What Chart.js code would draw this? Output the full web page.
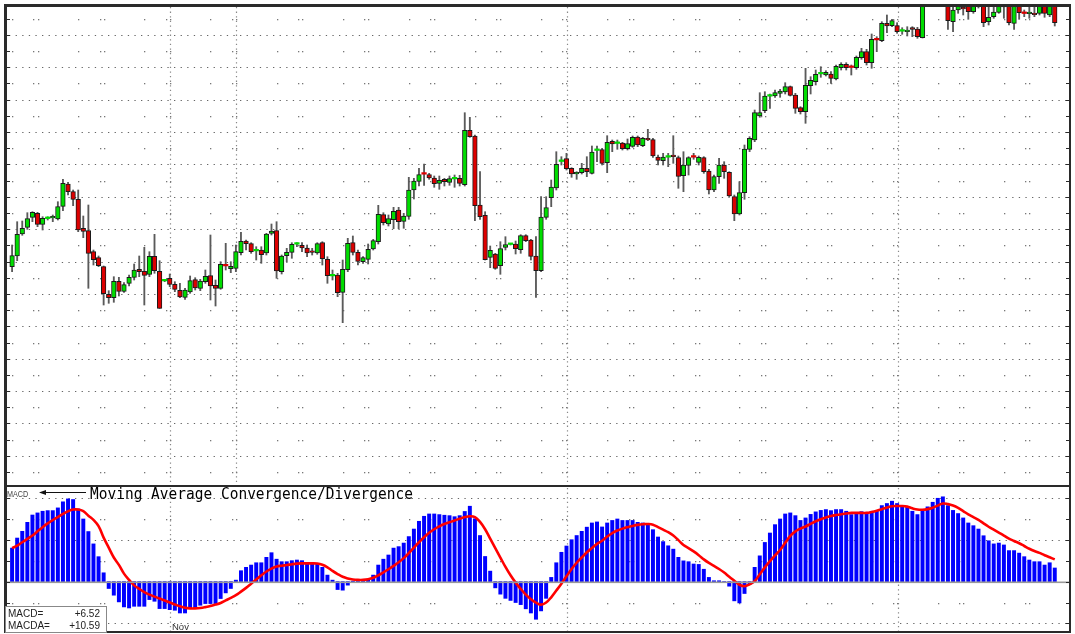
<!DOCTYPE html>
<html>
<head>
<meta charset="utf-8">
<script src="https://cdn.jsdelivr.net/npm/chart.js@4.4.1/dist/chart.umd.min.js"></script>
<style>
  body { margin: 0; background: #fff; }
  #wrap { position: relative; width: 1075px; height: 634px; overflow: hidden; }
  canvas { position: absolute; left: 0; }
  #top { top: 0; }
  #bot { top: 487px; }
  .lbl { position: absolute; white-space: nowrap; color: #222; font-family: "Liberation Sans", Arial, sans-serif; }
  #title { left: 90px; top: 486px; font: 14.5px/1 "DejaVu Sans Mono", monospace; color: #000; transform: scaleY(1.1); transform-origin: left top; }
  #macdTag { left: 7px; top: 489px; font-size: 9px; color: #444; transform: scaleX(0.8); transform-origin: left top; }
  #box { position: absolute; left: 5px; top: 606px; width: 100px; height: 25px; border: 1px solid #888; background: #fff; }
  .row { position: absolute; left: 2px; width: 92px; font: 10px/1 "Liberation Sans", Arial, sans-serif; color: #222; }
  .row span { position: absolute; right: 0; }
  #nov { left: 172px; top: 621px; font-size: 9.5px; color: #333; }
</style>
</head>
<body>
<div id="wrap">
  <canvas id="top" width="1075" height="487"></canvas>
  <canvas id="bot" width="1075" height="147"></canvas>
  <div class="lbl" id="macdTag">MACD</div>
  <div class="lbl" id="title">Moving Average Convergence/Divergence</div>
  <div class="lbl" id="nov">Nov</div>
  <div id="box">
    <div class="row" style="top:2px">MACD=<span>+6.52</span></div>
    <div class="row" style="top:14px">MACDA=<span>+10.59</span></div>
  </div>
</div>
<script>
// daily candles, price panel (arbitrary price units)
const opens = [
  233.3, 244, 266, 272.7, 282.7, 286.7, 275.7, 281.4, 282, 281,
  293.7, 316, 308.3, 300.7, 271.7, 269.3, 248.3, 242.3, 233.3, 205.7,
  202.3, 218.7, 208.7, 216.7, 222.7, 230.7, 228.7, 225.7, 243.7, 228.7,
  219.1, 221.7, 215.7, 209.7, 202.7, 208, 220.3, 211.7, 218.3, 224.3,
  214.7, 211.7, 234.5, 231.3, 231.7, 247.3, 259, 256.3, 249.1, 250,
  247, 266.7, 269.3, 228.3, 244.3, 247.7, 255.8, 254.7, 252, 248.2,
  247, 257.3, 240.7, 224.1, 225, 207.7, 230.3, 257.3, 247.7, 238.3,
  240.7, 251, 258.3, 285.3, 276, 280.3, 290, 278.7, 283.7, 310,
  318.7, 326.2, 325.3, 322, 316.7, 320.7, 317.7, 321.1, 321.7, 315.3,
  369.7, 364, 295, 284.7, 242.7, 246, 234.3, 252.7, 255.5, 256,
  250.3, 264.3, 260, 244, 229.3, 282.7, 302.3, 312, 338.5, 341.3,
  331.7, 326, 327.3, 331.7, 326.7, 349.5, 350.3, 337.3, 358.7, 356.5,
  357, 351.3, 353.7, 363, 354.3, 361.7, 360.3, 343, 339.3, 342.8,
  344.1, 342.3, 324.3, 334.7, 343.2, 337.7, 342.3, 329, 310, 323.3,
  335, 327.7, 303.3, 286, 307.3, 350.7, 360, 384, 389.3, 403.8,
  404, 406.7, 408, 413.3, 405, 392.3, 388.3, 414.3, 418.3, 426.1,
  425, 426, 421, 432.3, 435.7, 432.9, 432.3, 442.3, 448.3, 437.3,
  460.5, 459.3, 476.7, 474.3, 474.3, 468.8, 468.3, 471.4, 471, 462.3,
  498, 502, 505, 503, 500, 478.3, 490, 492, 496, 488.3,
  497, 496, 478.3, 483.3, 487.7, 494, 496, 476.7, 495, 486.9,
  486.4, 486.1, 486.7, 494, 485, 495
];
const highs = [
  255, 278.3, 279, 287.3, 288.3, 287.7, 283.3, 283.3, 285, 298.3,
  320.7, 317.7, 310, 310, 284, 295, 250, 244, 234, 209.3,
  223.3, 222.7, 217.3, 225, 236, 244, 252.7, 248.3, 265.7, 239.3,
  220.5, 226, 218.3, 216.7, 211.7, 224, 222.3, 220.7, 230, 265,
  220, 238.3, 256.7, 238.3, 255, 267.7, 260, 257.3, 253.3, 253.3,
  266.7, 276, 278.3, 245, 251.7, 257.3, 257.3, 257.3, 255, 251.7,
  257.3, 258.3, 243.3, 230, 226.7, 240, 261.7, 264, 250, 243.3,
  256, 260.7, 294.7, 287.3, 285, 292.7, 292.7, 286.7, 322.7, 321.7,
  331.7, 336, 326.7, 324, 324, 321.7, 324, 325, 324.7, 387.3,
  382.7, 365, 328.3, 288.3, 254, 246.7, 258.3, 263.3, 256.5, 259,
  265.3, 265.3, 260.7, 263.3, 303.3, 303.3, 320, 348.3, 343.3, 346.7,
  332.3, 328.3, 336.7, 343.3, 354, 354, 351.7, 364.3, 360, 360,
  357.7, 361, 364, 364, 362.7, 370.7, 361.7, 345, 346.7, 346.7,
  364.3, 344, 348.3, 343.3, 346.7, 344, 343.3, 330.7, 325, 341.7,
  338.3, 328.3, 305, 318.3, 355, 363.3, 390, 407.3, 408.3, 406,
  410, 410.7, 417.3, 414, 406.7, 393.3, 431.7, 423.3, 430, 433.3,
  429.3, 428.3, 435, 437.3, 437.3, 435, 444, 451.7, 450.7, 466,
  463.3, 478.3, 485, 480.7, 477.3, 472.3, 473.3, 473.3, 472.7, 503,
  505, 508, 511, 507, 502, 495, 497, 496, 498, 497,
  500, 499, 495, 495, 497, 497, 498, 499, 497, 490,
  494, 494, 496, 496, 496, 497
];
const lows = [
  228.3, 239.3, 264.7, 270.7, 278.3, 273.3, 270, 280, 278.3, 280,
  289.3, 305, 294.3, 268.3, 262.3, 211.7, 235, 233.3, 195, 196.7,
  197.7, 204, 207.7, 214, 220, 223.3, 195, 223.3, 226.7, 191.5,
  218.3, 213.3, 208.3, 202.3, 200.7, 206.7, 210, 209.3, 216.7, 200,
  194, 210.7, 230, 227.3, 228.3, 245, 250, 246.7, 240, 236.7,
  245, 265, 221.7, 226, 238.3, 241.7, 253.3, 248.3, 243.3, 245,
  245.7, 235, 216.7, 220, 203.3, 177.3, 228.3, 245, 235, 236.7,
  236, 250, 256, 275, 274, 271.3, 271.3, 271.7, 280.7, 301,
  314, 314.7, 320.7, 312.7, 310.7, 314, 314.7, 312.7, 314, 314,
  362.7, 279.3, 280.7, 240, 232.3, 230.7, 225.7, 250, 255, 246,
  246.7, 258.3, 240, 202.7, 228.3, 280.7, 293.3, 310, 335, 330,
  322.7, 320.7, 326, 323.3, 326, 338.3, 335, 327.3, 348.3, 350.7,
  350, 350, 352.7, 353.3, 353.3, 359.3, 342.7, 335, 335, 333.3,
  336.7, 311.7, 308.3, 325, 340.7, 335, 326.7, 306, 308.3, 316.7,
  321.7, 303.3, 279.3, 285, 300.7, 348.3, 358.3, 382.7, 387.3, 391.7,
  402.7, 402.7, 406, 404, 386.7, 386, 376.7, 406, 415, 422.7,
  424, 416.7, 420, 430, 430, 425, 430.7, 440.7, 435, 431.7,
  448.3, 458.3, 467.3, 473.3, 466.7, 465.7, 464, 463.3, 461.7, 462,
  495, 498, 500, 496, 470.7, 468.3, 486.7, 485, 480.7, 486.7,
  492, 473.3, 475, 481.7, 486.7, 481.7, 475, 470.7, 480.7, 483.3,
  481.7, 483.3, 485, 482.7, 483.3, 474
];
const closes = [
  244.3, 265.7, 271.7, 281.3, 287.7, 275.7, 281.7, 281.8, 282.7, 293.3,
  316.7, 308.3, 300.7, 270, 268.7, 246.7, 240.3, 234.3, 206.3, 202.3,
  218.7, 208.7, 215.3, 222.7, 230, 228.3, 224.7, 243.7, 229.3, 191.7,
  219.5, 215.7, 210.7, 203, 210, 219.3, 212, 219, 223.7, 214,
  211.7, 235.7, 234.1, 233.7, 248.3, 258.7, 256.3, 248.3, 249.5, 245.3,
  266, 269, 229, 244, 247.7, 255.7, 256.2, 252, 247, 247.5,
  256.3, 241.3, 224.3, 224.5, 207.3, 230.7, 256.7, 247.7, 238.5, 242.3,
  250.7, 259.3, 285.7, 277.3, 281.3, 288.7, 278.3, 284, 310, 319,
  325.3, 325.8, 322, 316.3, 319.7, 318.3, 321.3, 321.5, 316.7, 369.7,
  363.3, 294.3, 283.3, 240.3, 249.7, 231.7, 251.3, 255.3, 255.9, 251.3,
  264.3, 259.3, 243.7, 229.3, 283, 292.3, 313, 335.7, 338.9, 331.3,
  326, 327.7, 331.7, 328.3, 348, 349.9, 336.7, 357.7, 356, 356.9,
  351.3, 356.3, 362.7, 355, 361.7, 360, 344, 339.7, 343, 343.2,
  343.4, 323.7, 335, 342.3, 342.8, 342.7, 328.3, 310, 323.3, 335,
  328.3, 304, 286, 307.3, 351, 361.7, 387.3, 387.3, 404, 404.2,
  407.3, 409, 413.3, 404.7, 391.7, 388.3, 414.7, 419.7, 425.7, 426.5,
  427.7, 421.7, 433.7, 435.7, 432.3, 432.5, 442.7, 448.3, 437.3, 460.7,
  460.1, 476.7, 474, 479.3, 468.3, 469.2, 470, 470.7, 463.3, 497,
  502, 505, 503, 500, 479.3, 490, 495, 491, 488.3, 495,
  494, 477.3, 482.7, 488, 495, 493.3, 477.3, 496, 487.3, 486.5,
  487.1, 485.4, 494, 486.7, 494, 477.3
];

// MACD histogram (blue) and MACDA signal line (red)
const macd = [
  16.0, 20.8, 24.0, 28.3, 31.8, 32.8, 33.6, 33.9, 33.9, 35.2,
  38.1, 39.5, 39.2, 34.7, 29.9, 23.9, 18.0, 11.9, 4.2, -3.3,
  -6.5, -9.7, -12.1, -12.6, -11.8, -11.8, -11.8, -8.6, -9.4, -12.9,
  -12.9, -13.4, -13.7, -15.0, -15.0, -12.9, -12.4, -11.3, -10.5, -10.5,
  -10.5, -8.1, -5.4, -3.3, 0.7, 5.2, 6.8, 7.9, 9.0, 9.0,
  11.6, 13.8, 10.7, 9.5, 9.5, 10.0, 10.3, 10.0, 8.7, 8.7,
  8.7, 6.8, 3.1, 0.7, -3.8, -4.1, -1.7, 0.2, 0.3, 0.4,
  0.7, 3.1, 7.9, 10.7, 12.7, 16.0, 16.7, 18.4, 21.5, 25.1,
  28.8, 31.2, 32.3, 32.3, 32.0, 31.7, 31.5, 31.0, 31.5, 33.5,
  36.0, 30.0, 22.0, 12.0, 5.0, -3.0, -6.0, -8.0, -9.0, -10.0,
  -11.0, -13.0, -15.0, -18.0, -14.0, -8.0, 2.0, 9.0, 14.0, 17.0,
  20.0, 22.0, 24.0, 26.0, 28.0, 28.5, 26.1, 28.0, 29.2, 29.9,
  29.2, 29.2, 29.2, 28.3, 28.0, 27.2, 24.8, 21.3, 19.1, 17.1,
  15.5, 11.6, 9.9, 9.5, 8.4, 8.2, 5.9, 2.0, 0.4, 0.4,
  -0.2, -2.2, -9.2, -10.2, -5.7, -1.2, 6.8, 12.3, 18.7, 23.2,
  27.2, 29.9, 32.3, 32.8, 31.5, 29.2, 30.4, 32.1, 33.3, 34.0,
  34.4, 33.9, 34.4, 34.4, 33.6, 32.0, 32.8, 33.4, 33.1, 33.6,
  34.0, 36.3, 37.3, 38.4, 37.3, 35.7, 35.7, 33.6, 32.0, 33.6,
  35.7, 37.9, 39.8, 40.5, 36.3, 34.0, 32.5, 30.4, 28.0, 26.7,
  25.1, 21.9, 19.5, 18.0, 18.4, 17.5, 14.8, 14.8, 13.6, 11.9,
  10.3, 9.5, 9.5, 7.9, 9.0, 6.5
];
const macda = [
  16.0, 17.2, 18.8, 20.4, 22.0, 24.0, 26.0, 27.8, 29.4, 30.8,
  32.3, 33.6, 34.4, 34.4, 33.6, 31.5, 29.5, 26.5, 21.0, 16.2,
  11.5, 8.0, 3.8, 0.8, -1.8, -3.5, -5.0, -6.2, -7.2, -8.1,
  -9.0, -10.0, -10.9, -11.8, -12.5, -12.8, -12.8, -12.6, -12.2, -11.7,
  -11.0, -10.2, -9.0, -7.8, -6.5, -4.8, -3.0, -1.0, 1.0, 3.0,
  4.8, 6.2, 7.2, 7.6, 7.9, 8.3, 8.6, 8.7, 8.7, 8.7,
  8.6, 8.0, 6.8, 5.1, 3.6, 2.3, 1.5, 1.0, 0.8, 0.8,
  1.1, 1.8, 3.0, 4.4, 5.9, 7.5, 9.2, 11.2, 13.6, 16.2,
  18.8, 21.2, 23.3, 25.0, 26.4, 27.5, 28.3, 29.2, 30.0, 30.8,
  31.2, 30.8, 28.5, 25.0, 20.5, 16.0, 11.5, 7.0, 3.0, -0.5,
  -3.5, -6.2, -8.4, -10.0, -11.0, -10.0, -7.5, -4.3, -1.0, 2.5,
  6.0, 9.0, 11.5, 14.0, 16.0, 18.0, 19.5, 21.5, 23.2, 24.4,
  25.3, 26.0, 26.6, 27.1, 27.4, 27.5, 27.2, 26.0, 24.8, 23.6,
  22.0, 19.8, 17.5, 16.0, 14.4, 12.6, 10.6, 8.9, 7.5, 6.0,
  4.3, 2.3, 0.4, -1.5, -2.2, -1.3, 0.2, 3.5, 6.8, 9.8,
  12.5, 15.1, 18.5, 21.8, 24.0, 25.3, 26.3, 27.6, 28.8, 29.8,
  30.6, 31.3, 31.8, 32.2, 32.5, 32.8, 32.8, 32.8, 32.8, 33.2,
  33.8, 34.6, 35.4, 36.0, 36.1, 36.1, 35.8, 35.0, 34.4, 34.3,
  34.6, 35.3, 36.3, 37.3, 37.0, 36.3, 35.2, 33.7, 32.1, 30.8,
  29.5, 27.8, 26.2, 24.8, 23.4, 22.0, 20.5, 19.4, 18.3, 17.0,
  15.7, 14.6, 13.7, 12.6, 11.6, 10.6
];

// grid rows (price units / MACD units) and date columns (bar index)
const priceRows = [465.3, 432.9, 400.5, 368.1, 335.7, 303.3, 270.9, 238.5, 206.1, 173.7, 141.3, 108.9, 76.5, 44.1];
const priceMinorRows = [481.5, 449.1, 416.7, 384.3, 351.9, 319.5, 287.1, 254.7, 222.3, 189.9, 157.5, 125.1, 92.7, 60.3, 27.9];
const macdRows = [40, 20, -20];
const macdMinorRows = [30, 10, -10];
const monthLines = [31.1, 44, 109.1, 174.1];
const macdMonthLines = [31.1, 109.1, 174.1];
const weekCols = [];
for (let k = 0; k <= 16; k++) weekCols.push(13 * k, 13 * k + 4.2, 13 * k + 5);

const idx = opens.map((_, i) => i);
const X_MIN = -1, X_MAX = 207.8;

function isDoji(i) { return Math.abs(closes[i] - opens[i]) < 0.6; }
function upColor(i) { return closes[i] >= opens[i] ? '#00dd00' : '#dd0000'; }

function makeGrid(rows, minorRows, vlines) {
  return {
    id: 'gridDots',
    beforeDatasetsDraw(chart) {
      const { ctx, chartArea: a, scales: { x, y } } = chart;
      ctx.save();
      ctx.strokeStyle = '#666';
      ctx.lineWidth = 1.2;
      ctx.setLineDash([1.3, 5.3]);
      rows.forEach(v => {
        const py = Math.round(y.getPixelForValue(v)) + 0.5;
        ctx.beginPath(); ctx.moveTo(a.left + 2, py); ctx.lineTo(a.right, py); ctx.stroke();
      });
      ctx.strokeStyle = '#888';
      ctx.setLineDash([1.3, 3.3]);
      vlines.forEach(v => {
        const px = Math.round(x.getPixelForValue(v)) + 0.5;
        ctx.beginPath(); ctx.moveTo(px, a.top); ctx.lineTo(px, a.bottom); ctx.stroke();
      });
      ctx.fillStyle = '#777';
      minorRows.forEach(v => {
        const py = Math.round(y.getPixelForValue(v));
        weekCols.forEach(c => {
          const px = Math.round(x.getPixelForValue(c));
          if (px > a.left + 3 && px < a.right - 2) ctx.fillRect(px, py, 1.3, 1.3);
        });
      });
      ctx.restore();
    }
  };
}

function makeFrame(rows, isTop) {
  return {
    id: 'frame',
    afterDraw(chart) {
      const { ctx, chartArea: a, scales: { y } } = chart;
      ctx.save();
      ctx.fillStyle = '#2a2a2a';
      if (isTop) {
        ctx.fillRect(4, 4, 1067, 3);
        ctx.fillRect(4, 485, 1067, 2);
        ctx.fillRect(4, 4, 3, 483);
        ctx.fillRect(1069, 4, 2, 483);
      } else {
        ctx.fillRect(4, 0, 3, 146);
        ctx.fillRect(1069, 0, 2, 146);
        ctx.fillRect(4, 144, 1067, 2);
        // zero line
        ctx.fillStyle = '#999';
        ctx.fillRect(a.left, Math.round(y.getPixelForValue(0)) - 0.5, a.right - a.left, 1.6);
        // arrow next to the MACD tag
        ctx.strokeStyle = '#111'; ctx.lineWidth = 1; ctx.setLineDash([]);
        ctx.beginPath(); ctx.moveTo(41, 5.5); ctx.lineTo(86, 5.5); ctx.stroke();
        ctx.fillStyle = '#111';
        ctx.beginPath(); ctx.moveTo(39, 5.5); ctx.lineTo(46, 3); ctx.lineTo(46, 8); ctx.closePath(); ctx.fill();
        ctx.fillStyle = '#2a2a2a';
      }
      rows.forEach(v => {
        const py = Math.round(y.getPixelForValue(v));
        ctx.fillRect(7, py, 3, 1);
        ctx.fillRect(1066, py, 3, 1);
      });
      ctx.restore();
    }
  };
}

const common = {
  responsive: false,
  animation: false,
  devicePixelRatio: 1,
  events: [],
  plugins: { legend: { display: false }, tooltip: { enabled: false } }
};

new Chart(document.getElementById('top'), {
  type: 'bar',
  data: {
    datasets: [
      {
        label: 'range',
        data: idx.map(i => ({ x: i, y: [lows[i], highs[i]] })),
        backgroundColor: '#5a5a5a',
        barThickness: 1.2,
        grouped: false,
        order: 2
      },
      {
        label: 'body',
        data: idx.map(i => ({ x: i, y: [opens[i], closes[i]] })),
        backgroundColor: c => upColor(c.dataIndex),
        borderColor: '#1a1a1a',
        borderWidth: c => (isDoji(c.dataIndex) ? 0 : 1),
        borderSkipped: false,
        barThickness: 4.6,
        minBarLength: 1.6,
        grouped: false,
        order: 1
      }
    ]
  },
  options: {
    ...common,
    layout: { padding: { left: 7, right: 6, top: 7, bottom: 1 } },
    scales: {
      x: { type: 'linear', min: X_MIN, max: X_MAX, offset: false, display: false },
      y: { min: 14, max: 493, display: false }
    }
  },
  plugins: [makeGrid(priceRows, priceMinorRows, monthLines), makeFrame(priceRows.concat(priceMinorRows), true)]
});

new Chart(document.getElementById('bot'), {
  type: 'bar',
  data: {
    datasets: [
      {
        type: 'line',
        label: 'MACDA',
        data: idx.map(i => ({ x: i, y: macda[i] })),
        borderColor: '#ff0000',
        borderWidth: 2.6,
        pointRadius: 0,
        tension: 0.4,
        order: 0
      },
      {
        label: 'MACD',
        data: idx.map(i => ({ x: i, y: macd[i] })),
        backgroundColor: '#0000ff',
        barThickness: 3.3,
        order: 1
      }
    ]
  },
  options: {
    ...common,
    layout: { padding: { left: 7, right: 6, top: 1, bottom: 3 } },
    scales: {
      x: { type: 'linear', min: X_MIN, max: X_MAX, offset: false, display: false },
      y: { min: -23.6, max: 44.7, display: false }
    }
  },
  plugins: [makeGrid(macdRows, macdMinorRows, macdMonthLines), makeFrame(macdRows.concat(macdMinorRows, [0]), false)]
});
</script>
</body>
</html>
